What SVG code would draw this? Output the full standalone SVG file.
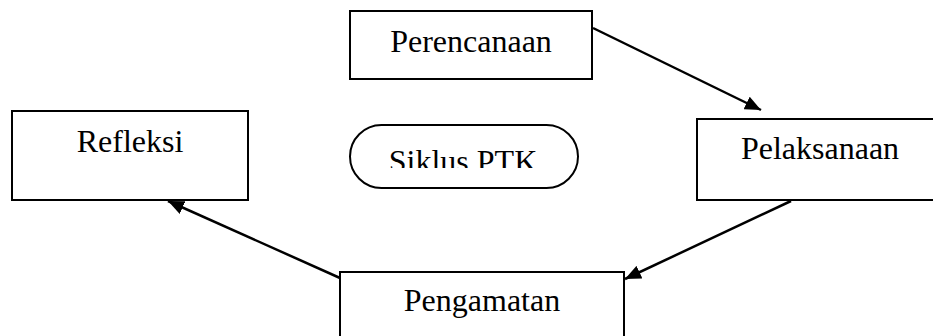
<svg xmlns="http://www.w3.org/2000/svg" width="933" height="336" viewBox="0 0 933 336">
<style>
.box{fill:#fff;stroke:#000;stroke-width:2}
.lbl{font-family:"Liberation Serif","Times New Roman",serif;font-size:32px;fill:#000;text-anchor:middle}
.conn{stroke:#000;stroke-width:2.5;fill:none;marker-end:url(#ah)}
</style>
<defs>
<marker id="ah" markerUnits="userSpaceOnUse" markerWidth="16" markerHeight="14" refX="16" refY="7" orient="auto">
<path d="M0,0 L16,7 L0,14 z" fill="#000"/>
</marker>
<clipPath id="clipSik"><rect x="350" y="125" width="228" height="43"/></clipPath>
</defs>
<rect width="933" height="336" fill="#fff"/>
<g id="perencanaan">
<rect class="box" x="350" y="11" width="242" height="68"/>
<text class="lbl" x="471" y="52">Perencanaan</text>
</g>
<g id="pelaksanaan">
<rect class="box" x="697" y="119" width="246" height="81"/>
<text class="lbl" x="820" y="159">Pelaksanaan</text>
</g>
<g id="pengamatan">
<rect class="box" x="340" y="272" width="284" height="80"/>
<text class="lbl" x="482" y="311">Pengamatan</text>
</g>
<g id="refleksi">
<rect class="box" x="12" y="111" width="236" height="89"/>
<text class="lbl" x="130" y="152">Refleksi</text>
</g>
<g id="siklus">
<rect class="box" x="350" y="125" width="228" height="63" rx="31.5" ry="31.5"/>
<text class="lbl" x="463" y="172" clip-path="url(#clipSik)">Siklus PTK</text>
</g>
<g id="connectors">
<line class="conn" x1="593" y1="28" x2="761" y2="110"/>
<line class="conn" x1="791" y1="201" x2="625" y2="279"/>
<line class="conn" x1="340" y1="278" x2="168" y2="201"/>
</g>
</svg>
